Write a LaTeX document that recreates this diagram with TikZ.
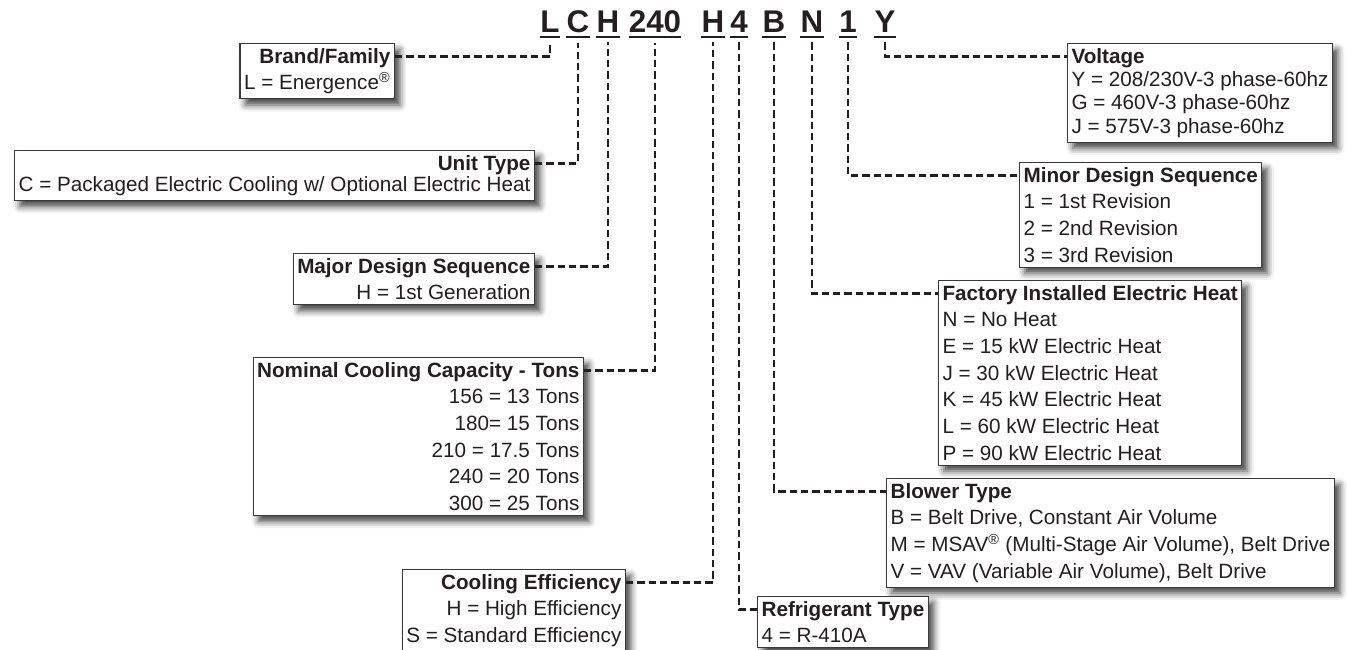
\documentclass[tikz,border=0pt]{standalone}
\usepackage{fontspec}
\setmainfont{Liberation Sans}
\usetikzlibrary{shadows.blur}
\definecolor{ink}{HTML}{231F20}
\definecolor{frame}{HTML}{3A3A3A}

\begin{document}
\begin{tikzpicture}[
    x=0.75pt, y=-0.75pt,
    font=\fontsize{15.5}{20}\selectfont,
    text=ink,
    code/.style={
        anchor=base,
        font=\bfseries\fontsize{23.5}{23.5}\selectfont,
        inner xsep=0pt,
        inner ysep=3.5pt,
        text=ink
    },
    uline/.style={draw=ink, line width=1.7pt},
    keybox/.style={
        draw=frame,
        fill=white,
        line width=0.9pt,
        inner xsep=3pt,
        inner ysep=3.5pt,
        blur shadow={shadow xshift=4pt, shadow yshift=-4.5pt,
            shadow blur radius=5pt, shadow opacity=75}
    },
    leftbox/.style={keybox, align=right, anchor=north east},
    rightbox/.style={keybox, align=left, anchor=north west},
    lead/.style={draw=ink, line width=1.8pt, dash pattern=on 5.5pt off 3pt}
]
\useasboundingbox (0,0) rectangle (1347,650);

% Model number characters.
\node[code] (cL) at (550,32) {L};
\node[code] (cC) at (578,32) {C};
\node[code] (cH) at (608,32) {H};
\node[code] (cCap) at (655,32) {240};
\node[code] (cEff) at (713,32) {H};
\node[code] (cRef) at (739,32) {4};
\node[code] (cB) at (774,32) {B};
\node[code] (cN) at (812,32) {N};
\node[code] (cMin) at (848,32) {1};
\node[code] (cY) at (885,32) {Y};
\foreach \n in {cL,cC,cH,cCap,cEff,cRef,cB,cN,cMin,cY}
    \draw[uline] (\n.south west) -- (\n.south east);

% Left column of keys.
\node[leftbox] (brand) at (395,43) {\textbf{Brand/Family}\\L = Energence\textsuperscript{®}};
\node[leftbox, font=\fontsize{15.5}{16}\selectfont] (unit) at (535,150)
    {\textbf{Unit Type}\\C = Packaged Electric Cooling w/ Optional Electric Heat};
\node[leftbox] (major) at (535,253) {\textbf{Major Design Sequence}\\H = 1st Generation};
\node[leftbox] (tons) at (584,357) {\textbf{Nominal Cooling Capacity - Tons}\\156 = 13 Tons\\180= 15 Tons\\210 = 17.5 Tons\\240 = 20 Tons\\300 = 25 Tons};
\node[leftbox] (eff) at (626,569) {\textbf{Cooling Efficiency}\\H = High Efficiency\\S = Standard Efficiency};

% Right column of keys.
\node[rightbox, font=\fontsize{15.5}{17.5}\selectfont] (volt) at (1067,43)
    {\textbf{Voltage}\\Y = 208/230V-3 phase-60hz\\G = 460V-3 phase-60hz\\J = 575V-3 phase-60hz};
\node[rightbox] (minor) at (1019,162) {\textbf{Minor Design Sequence}\\1 = 1st Revision\\2 = 2nd Revision\\3 = 3rd Revision};
\node[rightbox] (heat) at (938,280) {\textbf{Factory Installed Electric Heat}\\N = No Heat\\E = 15 kW Electric Heat\\J = 30 kW Electric Heat\\K = 45 kW Electric Heat\\L = 60 kW Electric Heat\\P = 90 kW Electric Heat};
\node[rightbox] (blower) at (886,478) {\textbf{Blower Type}\\B = Belt Drive, Constant Air Volume\\M = MSAV\textsuperscript{®} (Multi-Stage Air Volume), Belt Drive\\V = VAV (Variable Air Volume), Belt Drive};
\node[rightbox] (refr) at (757,596) {\textbf{Refrigerant Type}\\4 = R-410A};

% Leaders from each character to its key.
\draw[lead] ([yshift=-10pt]brand.north east) -| ([yshift=-4pt]cL.south);
\draw[lead] ([yshift=-10pt]unit.north east) -| ([yshift=-4pt]cC.south);
\draw[lead] ([yshift=-10pt]major.north east) -| ([yshift=-4pt]cH.south);
\draw[lead] ([yshift=-10pt]tons.north east) -| ([yshift=-4pt]cCap.south);
\draw[lead] ([yshift=-10pt]eff.north east) -| ([yshift=-4pt]cEff.south);
\draw[lead] ([yshift=-4pt]cRef.south) |- ([yshift=-10pt]refr.north west);
\draw[lead] ([yshift=-4pt]cB.south) |- ([yshift=-10pt]blower.north west);
\draw[lead] ([yshift=-4pt]cN.south) |- ([yshift=-10pt]heat.north west);
\draw[lead] ([yshift=-4pt]cMin.south) |- ([yshift=-10pt]minor.north west);
\draw[lead] ([yshift=-4pt]cY.south) |- ([yshift=-10pt]volt.north west);

\end{tikzpicture}
\end{document}
